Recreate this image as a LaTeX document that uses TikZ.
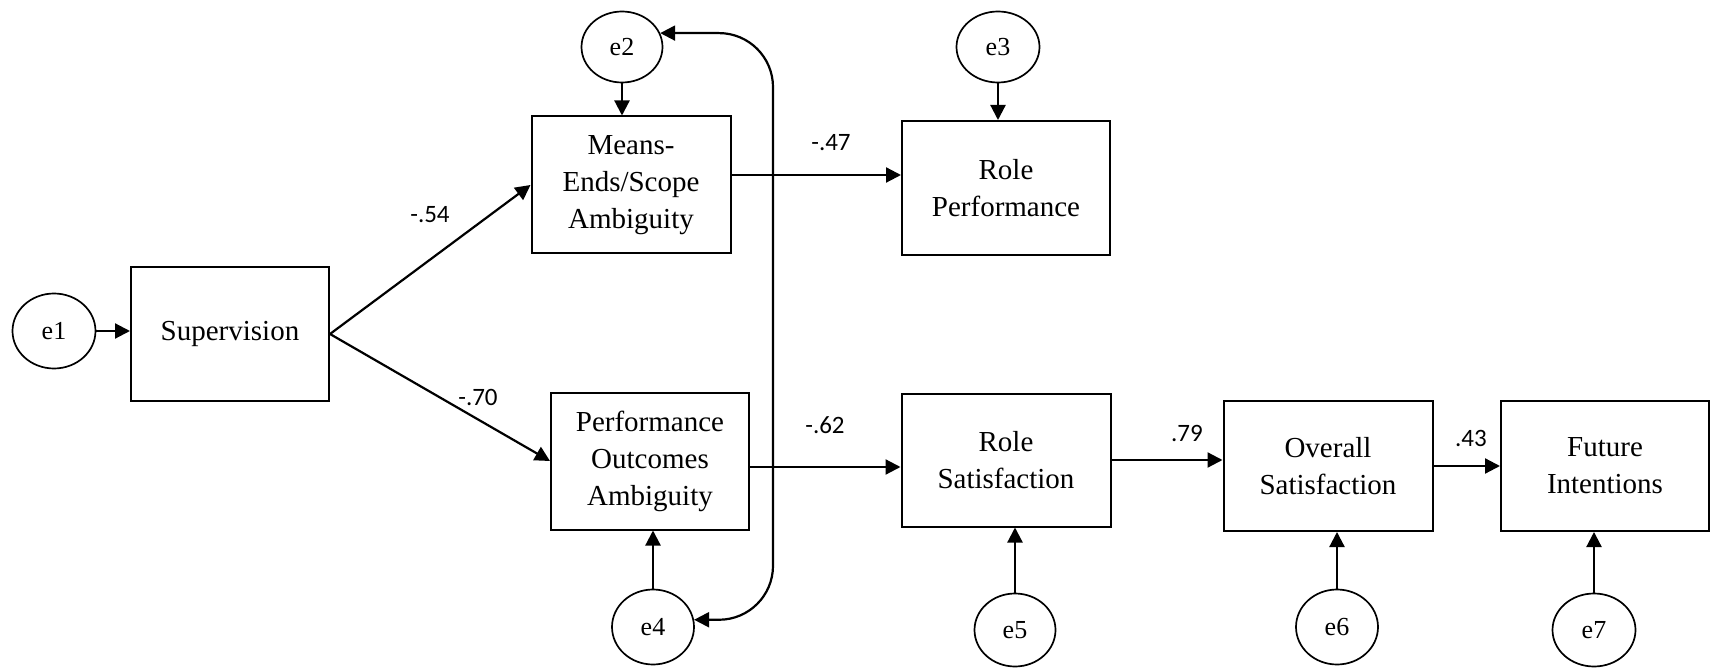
\documentclass[tikz,border=0pt]{standalone}
\usepackage{fontspec}
\setmainfont{Liberation Serif}
\newfontfamily\coeffont{Carlito}
\usetikzlibrary{shapes.geometric,arrows.meta}

\begin{document}
\begin{tikzpicture}[x=0.5pt, y=-0.5pt,
	var/.style={draw, line width=1pt, align=center, inner sep=2pt, font=\fontsize{14.5}{18.5}\selectfont},
	err/.style={draw, ellipse, line width=0.85pt, inner sep=0pt, font=\fontsize{13}{15}\selectfont},
	arr/.style={-{Triangle[length=7.5pt,width=7.5pt]}, line width=1.1pt},
	covarr/.style={{Triangle[length=7.5pt,width=7.5pt]}-{Triangle[length=7.5pt,width=7.5pt]}, line width=1.1pt, rounded corners=27pt},
	coef/.style={font=\coeffont\fontsize{12.5}{14}\selectfont}]
		\useasboundingbox (0,0) rectangle (1714,668);
		% observed variables
		\node[var, minimum width=99pt, minimum height=67pt] (sup) at (230,334) {Supervision};
		\node[var, minimum width=99.5pt, minimum height=68.5pt] (means) at (631,185) {Means-\\Ends/Scope\\Ambiguity};
		\node[var, minimum width=99pt, minimum height=68.5pt] (perf) at (650,461) {Performance\\Outcomes\\Ambiguity};
		\node[var, minimum width=104pt, minimum height=67pt] (rperf) at (1006,188) {Role\\Performance};
		\node[var, minimum width=104.5pt, minimum height=66.5pt] (rsat) at (1006,460) {Role\\Satisfaction};
		\node[var, minimum width=104.5pt, minimum height=65pt] (osat) at (1328,466) {Overall\\Satisfaction};
		\node[var, minimum width=104pt, minimum height=65pt] (fint) at (1605,466) {Future\\Intentions};
		% error terms
		\node[err, minimum width=41.5pt, minimum height=37.5pt] (e1) at (54,331) {e1};
		\node[err, minimum width=40.5pt, minimum height=35.5pt] (e2) at (622,47) {e2};
		\node[err, minimum width=41.5pt, minimum height=35.5pt] (e3) at (998,47) {e3};
		\node[err, minimum width=41pt, minimum height=37.5pt] (e4) at (653,627) {e4};
		\node[err, minimum width=40.5pt, minimum height=36.5pt] (e5) at (1015,630) {e5};
		\node[err, minimum width=41pt, minimum height=37.5pt] (e6) at (1337,627) {e6};
		\node[err, minimum width=41.5pt, minimum height=36.5pt] (e7) at (1594,630) {e7};
		% paths
		\draw[arr] (sup.east) -- (means.west);
		\draw[arr] (sup.east) -- (perf.west);
		\draw[arr] ([yshift=5pt]means.east) -- ([yshift=5pt]means.east -| rperf.west);
		\draw[arr] ([yshift=-3pt]perf.east) -- ([yshift=-3pt]perf.east -| rsat.west);
		\draw[arr] (rsat.east) -- (rsat.east -| osat.west);
		\draw[arr] (osat.east) -- (osat.east -| fint.west);
		\draw[arr] (e1.east) -- (e1.east -| sup.west);
		\draw[arr] (e2.south) -- (e2.south |- means.north);
		\draw[arr] (e3.south) -- (e3.south |- rperf.north);
		\draw[arr] (e4.north) -- (e4.north |- perf.south);
		\draw[arr] (e5.north) -- (e5.north |- rsat.south);
		\draw[arr] (e6.north) -- (e6.north |- osat.south);
		\draw[arr] (e7.north) -- (e7.north |- fint.south);
		% covariance e2 - e4
		\coordinate (cov) at (773,330);
		\draw[covarr] (e2.20) -| (cov) |- (e4.10);
		% coefficients
		\node[coef] (c1) at (430,215) {-.54};
		\node[coef] (c2) at (478,397) {-.70};
		\node[coef] (c3) at (831,143) {-.47};
		\node[coef] (c4) at (825,425) {-.62};
		\node[coef] (c5) at (1187,433) {.79};
		\node[coef] (c6) at (1471,438) {.43};
	\end{tikzpicture}
\end{document}
